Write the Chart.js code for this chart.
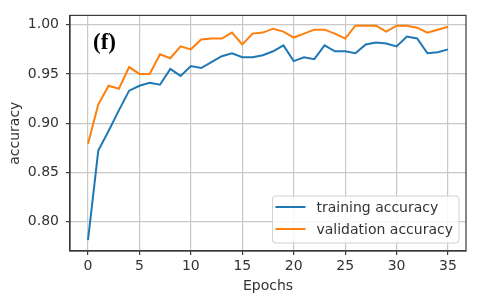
<!DOCTYPE html>
<html>
<head>
<meta charset="utf-8">
<script src="https://cdn.jsdelivr.net/npm/chart.js@4.4.1/dist/chart.umd.min.js"></script>
<style>
  html, body { margin: 0; padding: 0; background: #fff; }
  #wrap { width: 480px; height: 302px; }
</style>
</head>
<body>
<div id="wrap"><canvas id="chart" width="480" height="302"></canvas></div>
<script>
"use strict";

var epochs = [0, 1, 2, 3, 4, 5, 6, 7, 8, 9, 10, 11, 12, 13, 14, 15, 16, 17,
  18, 19, 20, 21, 22, 23, 24, 25, 26, 27, 28, 29, 30, 31, 32, 33, 34, 35];
var trainingAcc = [0.781, 0.872, 0.892, 0.913, 0.933, 0.938, 0.941, 0.939, 0.955, 0.948,
  0.958, 0.956, 0.962, 0.968, 0.971, 0.967, 0.967, 0.969, 0.973, 0.979,
  0.963, 0.967, 0.965, 0.979, 0.973, 0.973, 0.971, 0.980, 0.982, 0.981,
  0.978, 0.988, 0.986, 0.971, 0.972, 0.975];
var validationAcc = [0.879, 0.919, 0.938, 0.935, 0.957, 0.950, 0.950, 0.970, 0.966, 0.978,
  0.975, 0.985, 0.986, 0.986, 0.992, 0.980, 0.991, 0.992, 0.996, 0.993,
  0.987, 0.991, 0.995, 0.995, 0.991, 0.986, 0.999, 0.999, 0.999, 0.993,
  0.999, 0.999, 0.997, 0.992, 0.995, 0.998];
var xTicks = [0, 5, 10, 15, 20, 25, 30, 35];
var yTicks = [0.80, 0.85, 0.90, 0.95, 1.00];
var seriesLabels = ['training accuracy', 'validation accuracy'];
var panelLabel = '(f)';

var BLUE = '#1f77b4';
var ORANGE = '#ff7f0e';
var SPINE = '#3a3a3a';
var GRID = '#c8c8c8';
var TEXT = '#333333';

function points(ys) {
  return epochs.map(function(e, i) { return { x: e, y: ys[i] }; });
}

// top/right spines, panel label and the boxed legend inside the axes
var framePlugin = {
  id: 'frame',
  afterDatasetsDraw: function(chart) {
    var ctx = chart.ctx, a = chart.chartArea;
    ctx.save();
    ctx.strokeStyle = SPINE;
    ctx.lineWidth = 1.2;
    ctx.strokeRect(a.left, a.top, a.right - a.left, a.bottom - a.top);

    ctx.fillStyle = '#000';
    ctx.font = 'bold 23px "Liberation Serif"';
    ctx.textBaseline = 'alphabetic';
    ctx.fillText(panelLabel, a.left + 23, a.top + 34);

    ctx.font = '14px "DejaVu Sans"';
    var textW = 0;
    seriesLabels.forEach(function(t) { textW = Math.max(textW, ctx.measureText(t).width); });
    var right = a.right - 7, bottom = a.bottom - 8;
    var left = right - (44 + textW + 6), top = bottom - 47;
    ctx.beginPath();
    ctx.roundRect(left, top, right - left, bottom - top, 3);
    ctx.fillStyle = 'rgba(255,255,255,0.85)';
    ctx.fill();
    ctx.strokeStyle = '#d0d0d0';
    ctx.lineWidth = 1;
    ctx.stroke();

    ctx.textBaseline = 'middle';
    chart.data.datasets.forEach(function(ds, i) {
      var y = bottom - 36 + i * 22;
      ctx.strokeStyle = ds.borderColor;
      ctx.lineWidth = 2;
      ctx.beginPath();
      ctx.moveTo(left + 3, y);
      ctx.lineTo(left + 33, y);
      ctx.stroke();
      ctx.fillStyle = TEXT;
      ctx.fillText(ds.label, left + 44, y + 1);
    });
    ctx.restore();
  }
};

Chart.defaults.font.family = '"DejaVu Sans"';
Chart.defaults.font.size = 14;
Chart.defaults.color = TEXT;

new Chart(document.getElementById('chart'), {
  type: 'line',
  data: {
    datasets: [
      { label: seriesLabels[0], data: points(trainingAcc), borderColor: BLUE, backgroundColor: BLUE,
        borderWidth: 2, pointRadius: 0, tension: 0, fill: false },
      { label: seriesLabels[1], data: points(validationAcc), borderColor: ORANGE, backgroundColor: ORANGE,
        borderWidth: 2, pointRadius: 0, tension: 0, fill: false }
    ]
  },
  options: {
    responsive: false,
    animation: false,
    layout: { padding: { left: 0, top: 15, right: 14, bottom: 0 } },
    plugins: { legend: { display: false }, tooltip: { enabled: false } },
    scales: {
      x: {
        type: 'linear',
        min: -1.75,
        max: 36.75,
        afterBuildTicks: function(scale) {
          scale.ticks = xTicks.map(function(v) { return { value: v }; });
        },
        afterFit: function(scale) { scale.height = 51; },
        ticks: { padding: 3, maxRotation: 0, callback: function(v) { return String(v); } },
        grid: { color: GRID, lineWidth: 1.2, tickColor: SPINE, tickLength: 4 },
        border: { color: SPINE, width: 1.2 },
        title: { display: true, text: 'Epochs', padding: { top: 0, bottom: 7 } }
      },
      y: {
        type: 'linear',
        min: 0.770,
        max: 1.0095,
        afterBuildTicks: function(scale) {
          scale.ticks = yTicks.map(function(v) { return { value: v }; });
        },
        afterFit: function(scale) { scale.width = 70; },
        ticks: { padding: 7, callback: function(v) { return v.toFixed(2); } },
        grid: { color: GRID, lineWidth: 1.2, tickColor: SPINE, tickLength: 4 },
        border: { color: SPINE, width: 1.2 },
        title: { display: true, text: 'accuracy', padding: { top: 6.6, bottom: 0 } }
      }
    }
  },
  plugins: [framePlugin]
});
</script>
</body>
</html>
